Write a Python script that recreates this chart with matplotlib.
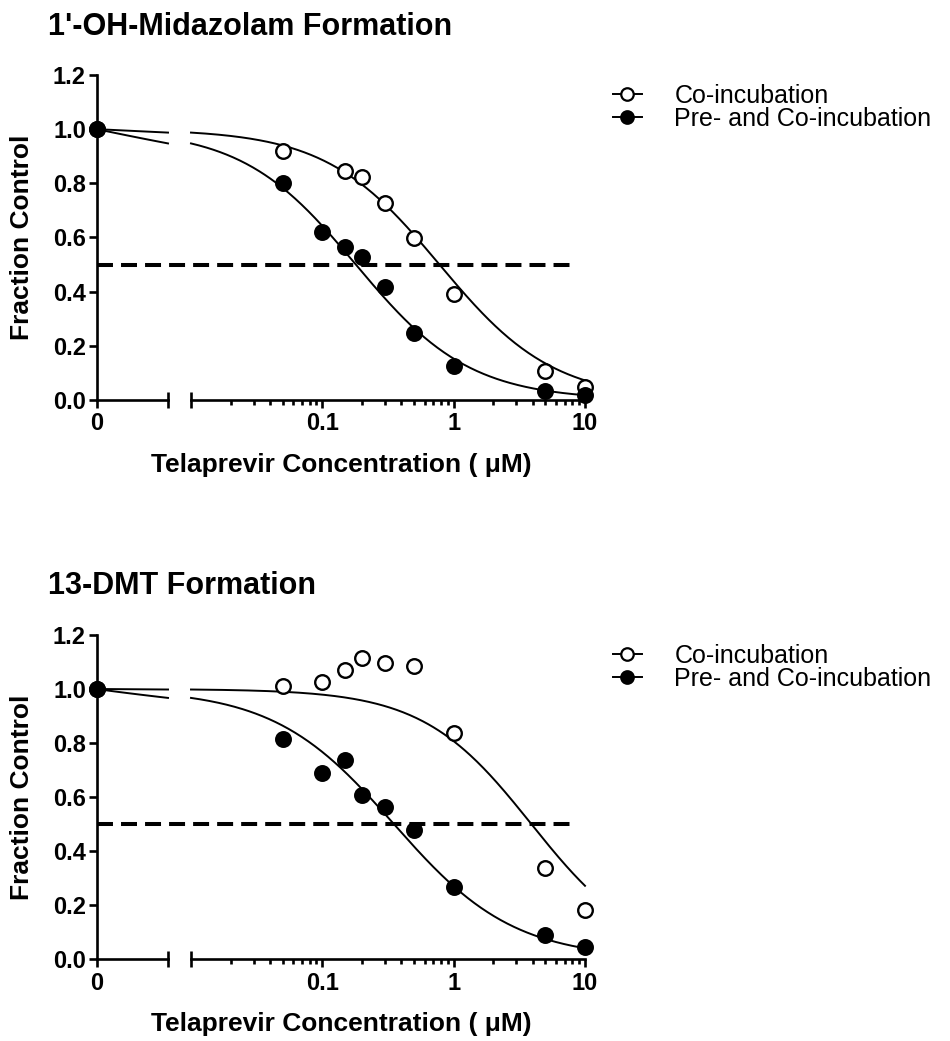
import numpy as np
import matplotlib
matplotlib.use("Agg")
import matplotlib.pyplot as plt
from matplotlib.lines import Line2D
from matplotlib.ticker import LogLocator, NullFormatter, FixedFormatter, FixedLocator

plt.rcParams['font.family'] = ['Liberation Sans', 'DejaVu Sans']

# ---------------- data ----------------
titles = ["1'-OH-Midazolam Formation", "13-DMT Formation"]
series_labels = ["Co-incubation", "Pre- and Co-incubation"]

# Panel 1: 1'-OH-Midazolam
p1_co_conc = [0, 0.05, 0.15, 0.2, 0.3, 0.5, 1, 5, 10]
p1_co_frac = [1.0, 0.92, 0.846, 0.822, 0.729, 0.599, 0.39, 0.107, 0.049]
p1_pre_conc = [0, 0.05, 0.1, 0.15, 0.2, 0.3, 0.5, 1, 5, 10]
p1_pre_frac = [1.0, 0.803, 0.622, 0.566, 0.529, 0.418, 0.249, 0.126, 0.033, 0.018]

# Panel 2: 13-DMT
p2_co_conc = [0, 0.05, 0.1, 0.15, 0.2, 0.3, 0.5, 1, 5, 10]
p2_co_frac = [1.0, 1.012, 1.027, 1.071, 1.113, 1.095, 1.084, 0.836, 0.338, 0.183]
p2_pre_conc = [0, 0.05, 0.1, 0.15, 0.2, 0.3, 0.5, 1, 5, 10]
p2_pre_frac = [1.0, 0.814, 0.690, 0.736, 0.606, 0.564, 0.478, 0.266, 0.090, 0.043]

# fitted dose-response parameters (IC50 in uM, Hill slope)
p1_ic50 = [0.78, 0.18]
p1_hill = [1.0, 1.0]
p2_ic50 = [3.9, 0.35]
p2_hill = [1.05, 0.95]

half_line = 0.5
half_line_end = 8.5

y_ticks = [0.0, 0.2, 0.4, 0.6, 0.8, 1.0, 1.2]
x_ticks_log = [0.1, 1, 10]
x_tick_labels_log = ["0.1", "1", "10"]

# ---------------- layout ----------------
W, H = 950, 1041
fig = plt.figure(figsize=(W / 100, H / 100), dpi=100)

SPINE_W = 1.9
CURVE_W = 1.4


def model(x, ic50, hill):
    x = np.asarray(x, dtype=float)
    return 1.0 / (1.0 + (x / ic50) ** hill)


def panel(y_zero_px, y_top_px, title, title_px, co_c, co_f, pre_c, pre_f, ic50s, hills):
    bottom = 1 - y_zero_px / H
    height = (y_zero_px - y_top_px) / H
    ax_l = fig.add_axes([97 / W, bottom, 71 / W, height])
    ax_r = fig.add_axes([191 / W, bottom, 394 / W, height])

    ax_l.set_xlim(0, 0.01)
    ax_l.set_ylim(0, 1.2)
    ax_r.set_xscale('log')
    ax_r.set_xlim(0.01, 10)
    ax_r.set_ylim(0, 1.2)

    for a in (ax_l, ax_r):
        a.patch.set_alpha(0)
        a.spines['top'].set_visible(False)
        a.spines['right'].set_visible(False)
        for s in a.spines.values():
            s.set_linewidth(SPINE_W)
        a.tick_params(which='major', direction='out', length=6, width=SPINE_W,
                      labelsize=17, pad=3)
        a.tick_params(which='minor', direction='out', length=3.5, width=SPINE_W)
    ax_r.spines['left'].set_visible(False)
    ax_r.tick_params(axis='y', which='both', left=False, labelleft=False)

    ax_l.set_xticks([0])
    ax_l.set_xticklabels(["0"], fontweight='bold')
    ax_l.set_yticks(y_ticks)
    ax_l.set_yticklabels([f"{v:.1f}" for v in y_ticks], fontweight='bold')
    ax_l.tick_params(axis='y', pad=2)

    ax_r.xaxis.set_major_locator(FixedLocator(x_ticks_log))
    ax_r.xaxis.set_major_formatter(FixedFormatter(x_tick_labels_log))
    ax_r.xaxis.set_minor_locator(LogLocator(base=10, subs=np.arange(2, 10)))
    ax_r.xaxis.set_minor_formatter(NullFormatter())
    for lab in ax_r.get_xticklabels():
        lab.set_fontweight('bold')

    # break caps
    ax_l.plot([1], [0], marker='|', ms=11, mew=SPINE_W, color='k',
              transform=ax_l.transAxes, clip_on=False)
    ax_r.plot([0], [0], marker='|', ms=11, mew=SPINE_W, color='k',
              transform=ax_r.transAxes, clip_on=False)

    # fitted curves
    xl = np.linspace(0, 0.01, 60)
    xr = np.logspace(-2, 1, 300)
    for ic, h in zip(ic50s, hills):
        ax_l.plot(xl, model(xl, ic, h), color='k', lw=CURVE_W, zorder=2, clip_on=False)
        ax_r.plot(xr, model(xr, ic, h), color='k', lw=CURVE_W, zorder=2, clip_on=False)

    # 50% dashed reference line across the break
    disp = ax_r.transData.transform((half_line_end, half_line))
    x_end = ax_l.transData.inverted().transform(disp)[0]
    ln, = ax_l.plot([0, x_end], [half_line, half_line], color='k', lw=2.9,
                    clip_on=False, zorder=1.5)
    ln.set_dashes((11.5 / 2.9, 5.8 / 2.9))

    # data points
    def scatter(c, f, filled, z):
        c = np.asarray(c, dtype=float)
        f = np.asarray(f, dtype=float)
        kw = dict(linestyle='none', marker='o', ms=10.5, mew=1.7, mec='k',
                  mfc='k' if filled else 'white', zorder=z, clip_on=False)
        ax_l.plot(c[c == 0], f[c == 0], **kw)
        ax_r.plot(c[c > 0], f[c > 0], **kw)

    scatter(co_c, co_f, False, 3)
    scatter(pre_c, pre_f, True, 4)

    # texts
    fig.text(48 / W, 1 - title_px / H, title, ha='left', va='center',
             fontsize=22, fontweight='bold')
    yc = (y_zero_px + y_top_px) / 2
    fig.text(22 / W, 1 - yc / H, "Fraction Control", rotation=90, ha='center',
             va='center', fontsize=19, fontweight='bold')
    fig.text(341 / W, 1 - (y_zero_px + 65) / H, "Telaprevir Concentration ( μM)",
             ha='center', va='center', fontsize=19, fontweight='bold')

    # legend
    handles = [
        Line2D([], [], color='k', lw=CURVE_W, marker='o', ms=9, mew=1.6,
               mfc='white', mec='k'),
        Line2D([], [], color='k', lw=CURVE_W, marker='o', ms=9, mew=1.6,
               mfc='k', mec='k'),
    ]
    fig.legend(handles, series_labels, loc='upper left',
               bbox_to_anchor=(613 / W, 1 - (y_top_px + 9) / H),
               frameon=False, fontsize=18, handlelength=1.15, handletextpad=1.3,
               labelspacing=-0.05, borderpad=0, borderaxespad=0)


panel(400, 75, titles[0], 27, p1_co_conc, p1_co_frac, p1_pre_conc, p1_pre_frac,
      p1_ic50, p1_hill)
panel(959, 635, titles[1], 586, p2_co_conc, p2_co_frac, p2_pre_conc, p2_pre_frac,
      p2_ic50, p2_hill)

fig.savefig("out.png", dpi=100)
